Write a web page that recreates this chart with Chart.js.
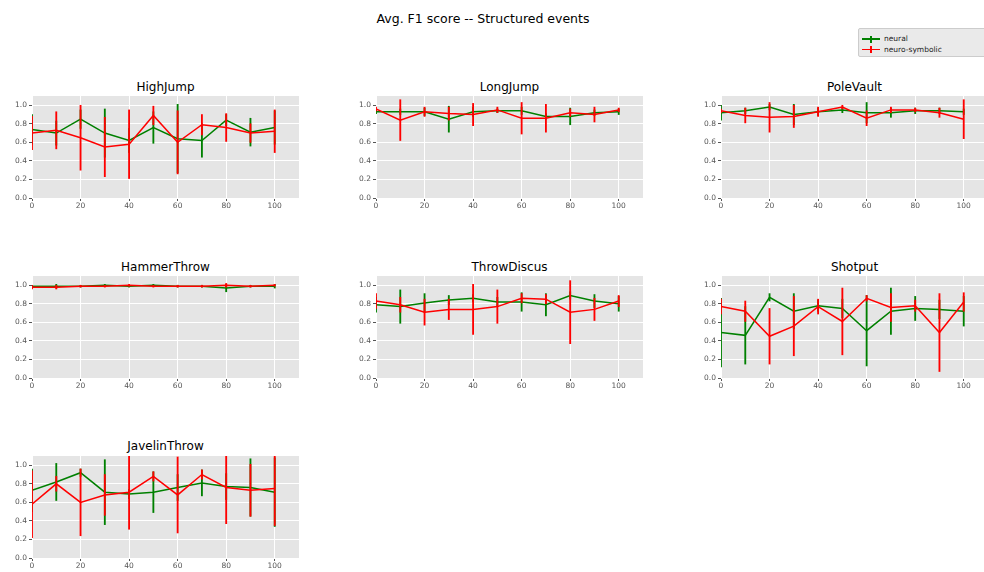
<!DOCTYPE html>
<html>
<head>
<meta charset="utf-8">
<script src="https://cdn.jsdelivr.net/npm/chart.js@4.4.0/dist/chart.umd.min.js"></script>
<style>
    body { margin: 0; width: 984px; height: 572px; overflow: hidden; background: #fff; font-family: "DejaVu Sans", sans-serif; position: relative; }
    #title { position: absolute; left: 0; width: 966px; top: 12.7px; text-align: center; font-size: 12.5px; line-height: 12.5px; color: #000; }
    .sub-title { position: absolute; width: 267px; text-align: center; font-size: 12px; line-height: 12px; color: #000; }
    .chart-box { position: absolute; }
    #legend { position: absolute; left: 858px; top: 28px; width: 130px; height: 29px; box-sizing: border-box; border: 1px solid #cccccc; border-radius: 2px; background: #eaeaea; font-size: 7.5px; color: #222; }
    .legend-item { position: absolute; left: 0; height: 10px; width: 120px; }
    .legend-item .hline { position: absolute; left: 3px; width: 18px; height: 1.5px; top: 4.3px; }
    .legend-item .vline { position: absolute; left: 11.3px; width: 1.5px; height: 7px; top: 1.5px; }
    .legend-item span { position: absolute; left: 25px; top: 1px; line-height: 8px; }
</style>
</head>
<body>
<div id="title">Avg. F1 score -- Structured events</div>
<div id="legend">
    <div class="legend-item" style="top: 5px;"><div class="hline" style="background:#008000"></div><div class="vline" style="background:#008000"></div><span>neural</span></div>
    <div class="legend-item" style="top: 15.5px;"><div class="hline" style="background:#ff0000"></div><div class="vline" style="background:#ff0000"></div><span>neuro-symbolic</span></div>
</div>
<div id="plots"></div>
<script>
// x positions shared by every event
const xValues = [0, 10, 20, 30, 40, 50, 60, 70, 80, 90, 100];
const xTicks = [0, 20, 40, 60, 80, 100];
const yTicks = [0.0, 0.2, 0.4, 0.6, 0.8, 1.0];

// HighJump
const highJumpNeural = [0.74, 0.70, 0.85, 0.70, 0.62, 0.76, 0.64, 0.62, 0.84, 0.71, 0.76];
const highJumpNeuralErr = [0.16, 0.13, 0.10, 0.26, 0.13, 0.17, 0.37, 0.18, 0.06, 0.15, 0.18];
const highJumpSymbolic = [0.70, 0.73, 0.65, 0.55, 0.58, 0.89, 0.60, 0.79, 0.76, 0.70, 0.72];
const highJumpSymbolicErr = [0.18, 0.20, 0.35, 0.32, 0.37, 0.10, 0.34, 0.11, 0.15, 0.10, 0.23];

// LongJump
const longJumpNeural = [0.93, 0.93, 0.93, 0.85, 0.93, 0.94, 0.94, 0.88, 0.88, 0.92, 0.93];
const longJumpNeuralErr = [0.02, 0.03, 0.04, 0.14, 0.05, 0.02, 0.04, 0.03, 0.09, 0.03, 0.03];
const longJumpSymbolic = [0.96, 0.84, 0.93, 0.91, 0.90, 0.95, 0.86, 0.86, 0.92, 0.90, 0.95];
const longJumpSymbolicErr = [0.02, 0.22, 0.05, 0.07, 0.12, 0.03, 0.17, 0.15, 0.04, 0.08, 0.02];

// PoleVault
const poleVaultNeural = [0.92, 0.94, 0.98, 0.90, 0.93, 0.95, 0.92, 0.92, 0.94, 0.94, 0.93];
const poleVaultNeuralErr = [0.08, 0.03, 0.03, 0.11, 0.04, 0.03, 0.11, 0.05, 0.03, 0.03, 0.03];
const poleVaultSymbolic = [0.94, 0.89, 0.87, 0.88, 0.93, 0.98, 0.86, 0.95, 0.95, 0.92, 0.85];
const poleVaultSymbolicErr = [0.02, 0.08, 0.16, 0.12, 0.05, 0.02, 0.08, 0.03, 0.02, 0.05, 0.21];

// HammerThrow
const hammerThrowNeural = [0.99, 0.99, 0.99, 1.00, 0.99, 1.00, 0.99, 0.99, 0.97, 0.99, 0.99];
const hammerThrowNeuralErr = [0.01, 0.02, 0.01, 0.01, 0.01, 0.01, 0.01, 0.01, 0.04, 0.01, 0.02];
const hammerThrowSymbolic = [0.98, 0.98, 0.99, 0.99, 1.00, 0.99, 0.99, 0.99, 1.00, 0.99, 1.00];
const hammerThrowSymbolicErr = [0.02, 0.02, 0.01, 0.01, 0.01, 0.01, 0.01, 0.01, 0.02, 0.01, 0.01];

// ThrowDiscus
const throwDiscusNeural = [0.79, 0.77, 0.81, 0.84, 0.86, 0.82, 0.82, 0.79, 0.89, 0.83, 0.80];
const throwDiscusNeuralErr = [0.08, 0.18, 0.10, 0.05, 0.04, 0.05, 0.10, 0.12, 0.04, 0.07, 0.08];
const throwDiscusSymbolic = [0.83, 0.79, 0.71, 0.74, 0.74, 0.77, 0.86, 0.85, 0.71, 0.74, 0.83];
const throwDiscusSymbolicErr = [0.08, 0.08, 0.14, 0.11, 0.27, 0.18, 0.05, 0.05, 0.34, 0.12, 0.06];

// Shotput
const shotputNeural = [0.49, 0.46, 0.87, 0.72, 0.78, 0.75, 0.51, 0.72, 0.75, 0.74, 0.72];
const shotputNeuralErr = [0.37, 0.31, 0.04, 0.19, 0.06, 0.10, 0.38, 0.25, 0.13, 0.10, 0.16];
const shotputSymbolic = [0.77, 0.72, 0.45, 0.56, 0.77, 0.61, 0.86, 0.76, 0.78, 0.49, 0.82];
const shotputSymbolicErr = [0.08, 0.11, 0.30, 0.32, 0.08, 0.36, 0.03, 0.15, 0.06, 0.42, 0.10];

// JavelinThrow
const javelinNeural = [0.73, 0.82, 0.92, 0.71, 0.69, 0.71, 0.76, 0.81, 0.77, 0.76, 0.71];
const javelinNeuralErr = [0.23, 0.20, 0.04, 0.35, 0.05, 0.22, 0.14, 0.14, 0.14, 0.31, 0.37];
const javelinSymbolic = [0.58, 0.80, 0.60, 0.68, 0.71, 0.88, 0.68, 0.90, 0.76, 0.73, 0.75];
const javelinSymbolicErr = [0.36, 0.08, 0.36, 0.22, 0.40, 0.05, 0.41, 0.05, 0.39, 0.28, 0.40];

const events = [
    ['HighJump', highJumpNeural, highJumpNeuralErr, highJumpSymbolic, highJumpSymbolicErr],
    ['LongJump', longJumpNeural, longJumpNeuralErr, longJumpSymbolic, longJumpSymbolicErr],
    ['PoleVault', poleVaultNeural, poleVaultNeuralErr, poleVaultSymbolic, poleVaultSymbolicErr],
    ['HammerThrow', hammerThrowNeural, hammerThrowNeuralErr, hammerThrowSymbolic, hammerThrowSymbolicErr],
    ['ThrowDiscus', throwDiscusNeural, throwDiscusNeuralErr, throwDiscusSymbolic, throwDiscusSymbolicErr],
    ['Shotput', shotputNeural, shotputNeuralErr, shotputSymbolic, shotputSymbolicErr],
    ['JavelinThrow', javelinNeural, javelinNeuralErr, javelinSymbolic, javelinSymbolicErr]
];

const GREEN = '#008000';
const RED = '#ff0000';
const colLeft = [0, 344, 689];
const rowTop = [96, 276, 456];
const titleTop = [80.5, 260.5, 440.3];
const PLOT_W = 267, PLOT_H = 102, Y_AXIS_W = 32, X_AXIS_H = 16, PAD_TOP = 10;

// grey panel behind the grid, ggplot style
const panelBackground = {
    id: 'panelBackground',
    beforeDraw(chart) {
        const { ctx, chartArea } = chart;
        ctx.save();
        ctx.fillStyle = '#e5e5e5';
        ctx.fillRect(chartArea.left, chartArea.top, chartArea.right - chartArea.left, chartArea.bottom - chartArea.top);
        ctx.restore();
    }
};

function lineDataset(label, means, color, order) {
    return {
        type: 'line',
        label: label,
        data: xValues.map((x, i) => ({ x: x, y: means[i] })),
        borderColor: color,
        borderWidth: 1.5,
        pointRadius: 0,
        tension: 0,
        clip: 0,
        order: order
    };
}

// error bars as thin floating bars from mean-err to mean+err
function errorDataset(label, means, errs, color, order) {
    return {
        type: 'bar',
        label: label + ' err',
        data: xValues.map((x, i) => ({ x: x, y: [means[i] - errs[i], means[i] + errs[i]] })),
        backgroundColor: color,
        borderWidth: 0,
        barThickness: 1.2,
        grouped: false,
        clip: 0,
        order: order
    };
}

function makeChart(idx, ev) {
    const col = idx % 3, row = Math.floor(idx / 3);
    const plots = document.getElementById('plots');

    const title = document.createElement('div');
    title.className = 'sub-title';
    title.style.left = (colLeft[col] + Y_AXIS_W) + 'px';
    title.style.top = titleTop[row] + 'px';
    title.textContent = ev[0];
    plots.appendChild(title);

    const box = document.createElement('div');
    box.className = 'chart-box';
    box.style.left = colLeft[col] + 'px';
    box.style.top = (rowTop[row] - PAD_TOP) + 'px';
    box.style.width = (Y_AXIS_W + PLOT_W) + 'px';
    box.style.height = (PAD_TOP + PLOT_H + X_AXIS_H) + 'px';
    const canvas = document.createElement('canvas');
    box.appendChild(canvas);
    plots.appendChild(box);

    const tickFont = { family: 'DejaVu Sans', size: 7.5 };

    new Chart(canvas, {
        type: 'line',
        data: {
            datasets: [
                lineDataset('neural', ev[1], GREEN, 4),
                errorDataset('neural', ev[1], ev[2], GREEN, 3),
                lineDataset('neuro-symbolic', ev[3], RED, 2),
                errorDataset('neuro-symbolic', ev[3], ev[4], RED, 1)
            ]
        },
        options: {
            responsive: true,
            maintainAspectRatio: false,
            animation: false,
            layout: { padding: { top: PAD_TOP, left: 0, right: 0, bottom: 0 } },
            plugins: {
                legend: { display: false },
                tooltip: { enabled: false },
                title: { display: false }
            },
            scales: {
                x: {
                    type: 'linear',
                    min: 0,
                    max: 110,
                    offset: false,
                    afterBuildTicks: scale => { scale.ticks = xTicks.map(v => ({ value: v })); },
                    afterFit: scale => { scale.height = X_AXIS_H; },
                    ticks: { font: tickFont, color: '#555555', padding: 1, maxRotation: 0, autoSkip: false },
                    grid: { color: '#ffffff', lineWidth: 1, tickColor: '#555555', tickLength: 3, offset: false },
                    border: { display: false }
                },
                y: {
                    min: 0,
                    max: 1.1,
                    afterBuildTicks: scale => { scale.ticks = yTicks.map(v => ({ value: v })); },
                    afterFit: scale => { scale.width = Y_AXIS_W; },
                    ticks: {
                        font: tickFont,
                        color: '#555555',
                        padding: 2,
                        callback: v => v.toFixed(1)
                    },
                    grid: { color: '#ffffff', lineWidth: 1, tickColor: '#555555', tickLength: 3 },
                    border: { display: false }
                }
            }
        },
        plugins: [panelBackground]
    });
}

events.forEach((ev, i) => makeChart(i, ev));
</script>
</body>
</html>
